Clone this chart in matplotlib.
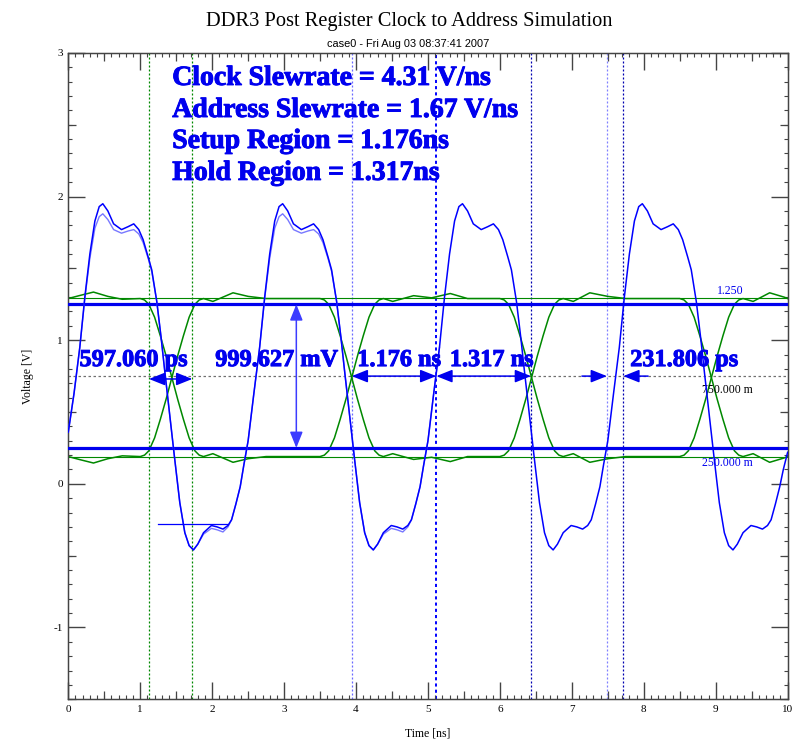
import numpy as np
import matplotlib
matplotlib.use('Agg')
import matplotlib.pyplot as plt
import matplotlib.patheffects as pe
from matplotlib.ticker import MultipleLocator, NullLocator

plt.rcParams['font.family'] = 'serif'
plt.rcParams['font.serif'] = ['Liberation Serif', 'DejaVu Serif']
plt.rcParams['axes.unicode_minus'] = False

BLUE = '#0000ee'
GREEN = '#008800'

# clock waveform (main run), time [ns] / voltage [V]
clock_t = [0.00, 0.08, 0.16, 0.23, 0.30, 0.37, 0.43, 0.48, 0.55, 0.63, 0.74, 0.83, 0.91, 0.98, 1.04, 1.11, 1.16, 1.23,
           1.29, 1.34, 1.41, 1.48, 1.55, 1.62, 1.68, 1.74, 1.80, 1.88, 1.99, 2.07, 2.15, 2.22, 2.27, 2.33, 2.39, 2.44,
           2.50, 2.58, 2.66, 2.73, 2.80, 2.87, 2.93, 2.98, 3.05, 3.13, 3.24, 3.33, 3.41, 3.48, 3.54, 3.61, 3.66, 3.73,
           3.79, 3.84, 3.91, 3.98, 4.05, 4.12, 4.18, 4.24, 4.30, 4.38, 4.49, 4.57, 4.65, 4.72, 4.77, 4.83, 4.89, 4.94,
           5.00, 5.08, 5.16, 5.23, 5.30, 5.37, 5.43, 5.48, 5.55, 5.63, 5.74, 5.83, 5.91, 5.98, 6.04, 6.11, 6.16, 6.23,
           6.29, 6.34, 6.41, 6.48, 6.55, 6.62, 6.68, 6.74, 6.80, 6.88, 6.99, 7.07, 7.15, 7.22, 7.27, 7.33, 7.39, 7.44,
           7.50, 7.58, 7.66, 7.73, 7.80, 7.87, 7.93, 7.98, 8.05, 8.13, 8.24, 8.33, 8.41, 8.48, 8.54, 8.61, 8.66, 8.73,
           8.79, 8.84, 8.91, 8.98, 9.05, 9.12, 9.18, 9.24, 9.30, 9.38, 9.49, 9.57, 9.65, 9.72, 9.77, 9.83, 9.89, 9.94,
           10.00]
clock_v = [0.36, 0.63, 0.95, 1.30, 1.60, 1.83, 1.93, 1.95, 1.90, 1.81, 1.77, 1.79, 1.81, 1.77, 1.70, 1.58, 1.49, 1.27,
           1.02, 0.79, 0.48, 0.17, -0.13, -0.34, -0.43, -0.46, -0.42, -0.34, -0.29, -0.30, -0.315, -0.29, -0.25, -0.14, -0.02, 0.13,
           0.30, 0.63, 0.95, 1.30, 1.60, 1.83, 1.93, 1.95, 1.90, 1.81, 1.77, 1.79, 1.81, 1.77, 1.70, 1.58, 1.49, 1.27,
           1.02, 0.79, 0.48, 0.17, -0.13, -0.34, -0.43, -0.46, -0.42, -0.34, -0.29, -0.30, -0.315, -0.29, -0.25, -0.14, -0.02, 0.13,
           0.30, 0.63, 0.95, 1.30, 1.60, 1.83, 1.93, 1.95, 1.90, 1.81, 1.77, 1.79, 1.81, 1.77, 1.70, 1.58, 1.49, 1.27,
           1.02, 0.79, 0.48, 0.17, -0.13, -0.34, -0.43, -0.46, -0.42, -0.34, -0.29, -0.30, -0.315, -0.29, -0.25, -0.14, -0.02, 0.13,
           0.30, 0.63, 0.95, 1.30, 1.60, 1.83, 1.93, 1.95, 1.90, 1.81, 1.77, 1.79, 1.81, 1.77, 1.70, 1.58, 1.49, 1.27,
           1.02, 0.79, 0.48, 0.17, -0.13, -0.34, -0.43, -0.46, -0.42, -0.34, -0.29, -0.30, -0.315, -0.29, -0.25, -0.14, -0.02, 0.10,
           0.22]

# second (lighter) clock run, only visible over the first two cycles
clock2_t = [0.00, 0.08, 0.16, 0.23, 0.30, 0.37, 0.43, 0.48, 0.55, 0.63, 0.74, 0.83, 0.91, 0.98, 1.04, 1.11, 1.16, 1.23,
            1.29, 1.34, 1.41, 1.48, 1.55, 1.62, 1.68, 1.74, 1.80, 1.88, 1.99, 2.07, 2.15, 2.22, 2.27, 2.33, 2.39, 2.44,
            2.50, 2.58, 2.66, 2.73, 2.80, 2.87, 2.93, 2.98, 3.05, 3.13, 3.24, 3.33, 3.41, 3.48, 3.54, 3.61, 3.66, 3.73,
            3.79, 3.84, 3.91, 3.98, 4.05, 4.12, 4.18, 4.24, 4.30, 4.38, 4.49, 4.57, 4.65, 4.72, 4.77, 4.83, 4.89, 4.94,
            5.00, 5.08, 5.16]
clock2_v = [0.36, 0.63, 0.95, 1.29, 1.57, 1.78, 1.86, 1.88, 1.84, 1.77, 1.745, 1.76, 1.77, 1.74, 1.68, 1.57, 1.48, 1.27,
            1.02, 0.79, 0.48, 0.17, -0.13, -0.34, -0.43, -0.46, -0.42, -0.35, -0.31, -0.32, -0.335, -0.30, -0.25, -0.14, -0.02, 0.13,
            0.30, 0.63, 0.95, 1.29, 1.57, 1.78, 1.86, 1.88, 1.84, 1.77, 1.745, 1.76, 1.77, 1.74, 1.68, 1.57, 1.48, 1.27,
            1.02, 0.79, 0.48, 0.17, -0.13, -0.34, -0.43, -0.46, -0.42, -0.35, -0.31, -0.32, -0.335, -0.30, -0.25, -0.14, -0.02, 0.13,
            0.30, 0.63, 0.95]

# address eye: two complementary traces
addr_t = [0.00, 0.15, 0.35, 0.55, 0.75, 1.00,
          1.06, 1.12, 1.20, 1.28, 1.36, 1.44, 1.52, 1.60, 1.68, 1.76, 1.82, 1.88,
          2.01, 2.29, 2.50, 2.75, 3.50,
          3.56, 3.62, 3.70, 3.78, 3.86, 3.94, 4.02, 4.10, 4.18, 4.26, 4.32, 4.38,
          4.51, 4.80, 5.05, 5.31, 5.55, 6.00,
          6.06, 6.12, 6.20, 6.28, 6.36, 6.44, 6.52, 6.60, 6.68, 6.76, 6.82, 6.88,
          7.02, 7.25, 7.50, 7.75, 8.50,
          8.56, 8.62, 8.70, 8.78, 8.86, 8.94, 9.02, 9.10, 9.18, 9.26, 9.32, 9.38,
          9.52, 9.75, 9.95, 10.00]
addr_a = [1.29, 1.31, 1.335, 1.305, 1.285, 1.29,
          1.28, 1.25, 1.16, 1.03, 0.89, 0.74, 0.59, 0.45, 0.32, 0.23, 0.20, 0.19,
          0.21, 0.15, 0.175, 0.19, 0.19,
          0.20, 0.23, 0.32, 0.45, 0.59, 0.74, 0.89, 1.03, 1.16, 1.25, 1.28, 1.29,
          1.27, 1.31, 1.295, 1.325, 1.29, 1.29,
          1.28, 1.25, 1.16, 1.03, 0.89, 0.74, 0.59, 0.45, 0.32, 0.23, 0.20, 0.19,
          0.21, 0.15, 0.175, 0.19, 0.19,
          0.20, 0.23, 0.32, 0.45, 0.59, 0.74, 0.89, 1.03, 1.16, 1.25, 1.28, 1.29,
          1.27, 1.33, 1.30, 1.29]
addr_b = [0.19, 0.17, 0.145, 0.175, 0.195, 0.19,
          0.20, 0.23, 0.32, 0.45, 0.59, 0.74, 0.89, 1.03, 1.16, 1.25, 1.28, 1.29,
          1.27, 1.33, 1.305, 1.29, 1.29,
          1.28, 1.25, 1.16, 1.03, 0.89, 0.74, 0.59, 0.45, 0.32, 0.23, 0.20, 0.19,
          0.21, 0.17, 0.185, 0.155, 0.19, 0.19,
          0.20, 0.23, 0.32, 0.45, 0.59, 0.74, 0.89, 1.03, 1.16, 1.25, 1.28, 1.29,
          1.27, 1.33, 1.305, 1.29, 1.29,
          1.28, 1.25, 1.16, 1.03, 0.89, 0.74, 0.59, 0.45, 0.32, 0.23, 0.20, 0.19,
          0.21, 0.15, 0.18, 0.19]
steady_t = [0.0, 10.0]
steady_hi = [1.295, 1.295]
steady_lo = [0.19, 0.19]

# reference levels
vih, vref, vil = 1.25, 0.75, 0.25
marker_t = [1.25, 2.20]
marker_v = [-0.28, -0.28]

# measurement cursors
cursor_t = [1.122, 1.724, 3.94, 5.116, 6.433, 7.488, 7.715]
cursor_c = [GREEN, GREEN, '#6a6aff', '#0000ff', '#0000b0', '#8080ff', '#0000b0']
cursor_w = [0.9, 0.9, 0.9, 1.4, 0.9, 0.9, 0.9]

spans = [(1.122, 1.724, 0.73), (3.94, 5.116, 0.75), (5.116, 6.433, 0.75)]
span_labels = ['597.060 ps', '999.627 mV', '1.176 ns', '1.317 ns', '231.806 ps']
span_label_x = [0.905, 2.896, 4.60, 5.886, 8.56]

summary = ['Clock Slewrate = 4.31 V/ns', 'Address Slewrate = 1.67 V/ns',
           'Setup Region = 1.176ns', 'Hold Region = 1.317ns']
summary_y = [2.777, 2.554, 2.338, 2.116]

# thicken the bold glyphs a little, the source used a heavy GDI Times
heavy = [pe.withStroke(linewidth=0.7, foreground=BLUE)]

fig = plt.figure(figsize=(7.94, 7.39), dpi=100)
ax = fig.add_axes([0.086, 0.0537, 0.906, 0.8747])

for x, c, w in zip(cursor_t, cursor_c, cursor_w):
    ax.axvline(x, color=c, lw=w, ls=(0, (1.6, 1.6)), zorder=1)

ax.axhline(vref, color='#707070', lw=0.9, ls=(0, (2, 2)), zorder=1)

ax.plot(steady_t, steady_hi, color=GREEN, lw=0.8, zorder=2)
ax.plot(steady_t, steady_lo, color=GREEN, lw=0.8, zorder=2)
ax.plot(addr_t, addr_a, color=GREEN, lw=1.1, zorder=2)
ax.plot(addr_t, addr_b, color=GREEN, lw=1.1, zorder=2)

ax.axhline(vih, color=BLUE, lw=2.3, zorder=3)
ax.axhline(vil, color=BLUE, lw=2.3, zorder=3)

ax.plot(clock2_t, clock2_v, color='#7878ff', lw=1.0, zorder=4)
ax.plot(clock_t, clock_v, color='#0000ff', lw=1.1, zorder=5)
ax.plot(marker_t, marker_v, color='#0000ff', lw=0.9, zorder=5)

aprops = dict(arrowstyle='<|-|>,head_length=0.75,head_width=0.3', color=BLUE, lw=1.1,
              shrinkA=0, shrinkB=0, mutation_scale=13)
for x1, x2, y in spans:
    ax.annotate('', xy=(x2, y), xytext=(x1, y), arrowprops=aprops, zorder=6)
ax.annotate('', xy=(3.17, vil), xytext=(3.17, vih),
            arrowprops=dict(aprops, color='#3c3cff'), zorder=6)
oprops = dict(arrowstyle='-|>,head_length=0.75,head_width=0.3', color=BLUE, lw=1.1,
              shrinkA=0, shrinkB=0, mutation_scale=13)
ax.annotate('', xy=(7.488, 0.75), xytext=(7.14, 0.75), arrowprops=oprops, zorder=6)
ax.annotate('', xy=(7.715, 0.75), xytext=(8.06, 0.75), arrowprops=oprops, zorder=6)

for s, x in zip(span_labels, span_label_x):
    ax.text(x, 0.82, s, ha='center', va='baseline', color=BLUE, fontweight='bold',
            fontsize=17.5, zorder=7, path_effects=heavy)

for s, y in zip(summary, summary_y):
    ax.text(1.445, y, s, ha='left', va='baseline', color=BLUE, fontweight='bold',
            fontsize=20, zorder=7, path_effects=heavy)

ax.text(9.20, 1.343, '1.250', ha='center', va='center', color=BLUE, fontsize=8.5)
ax.text(9.16, 0.654, '750.000 m', ha='center', va='center', color='black', fontsize=8.5)
ax.text(9.16, 0.148, '250.000 m', ha='center', va='center', color=BLUE, fontsize=8.5)

ax.set_xlim(0, 10)
ax.set_ylim(-1.5, 3)
ax.xaxis.set_major_locator(MultipleLocator(1))
ax.xaxis.set_minor_locator(MultipleLocator(0.1))
ax.yaxis.set_major_locator(MultipleLocator(1))
ax.yaxis.set_minor_locator(MultipleLocator(0.1))
ax.tick_params(which='major', direction='in', length=12.5, width=1.0, color='#444444',
               top=True, right=True, labelsize=8, pad=4)
ax.tick_params(which='minor', direction='in', length=3, width=0.8, color='#444444',
               top=True, right=True)
for sp in ax.spines.values():
    sp.set_color('#444444')
    sp.set_linewidth(1.0)

# half-unit ticks, medium length
half_x = [0.5, 1.5, 2.5, 3.5, 4.5, 5.5, 6.5, 7.5, 8.5, 9.5]
half_y = [-1.5, -0.5, 0.5, 1.5, 2.5]
for loc in ['bottom', 'top']:
    sec = ax.secondary_xaxis(loc)
    sec.set_xticks(half_x)
    sec.xaxis.set_minor_locator(NullLocator())
    sec.tick_params(direction='in', length=6, width=0.9, color='#444444',
                    labelbottom=False, labeltop=False)
    sec.spines[loc].set_color('#444444')
for loc in ['left', 'right']:
    sec = ax.secondary_yaxis(loc)
    sec.set_yticks(half_y)
    sec.yaxis.set_minor_locator(NullLocator())
    sec.tick_params(direction='in', length=6, width=0.9, color='#444444',
                    labelleft=False, labelright=False)
    sec.spines[loc].set_color('#444444')

ax.set_xlabel('Time [ns]', fontsize=8.5, labelpad=10)
ax.set_ylabel('Voltage [V]', fontsize=8.5, labelpad=14)

fig.text(0.515, 0.965, 'DDR3 Post Register Clock to Address Simulation', ha='center',
         va='baseline', fontsize=14.7)
fig.text(0.5145, 0.937, 'case0 - Fri Aug 03 08:37:41 2007', ha='center', va='baseline',
         fontsize=7.9, family='Liberation Sans')

fig.savefig('out.png', dpi=100)
